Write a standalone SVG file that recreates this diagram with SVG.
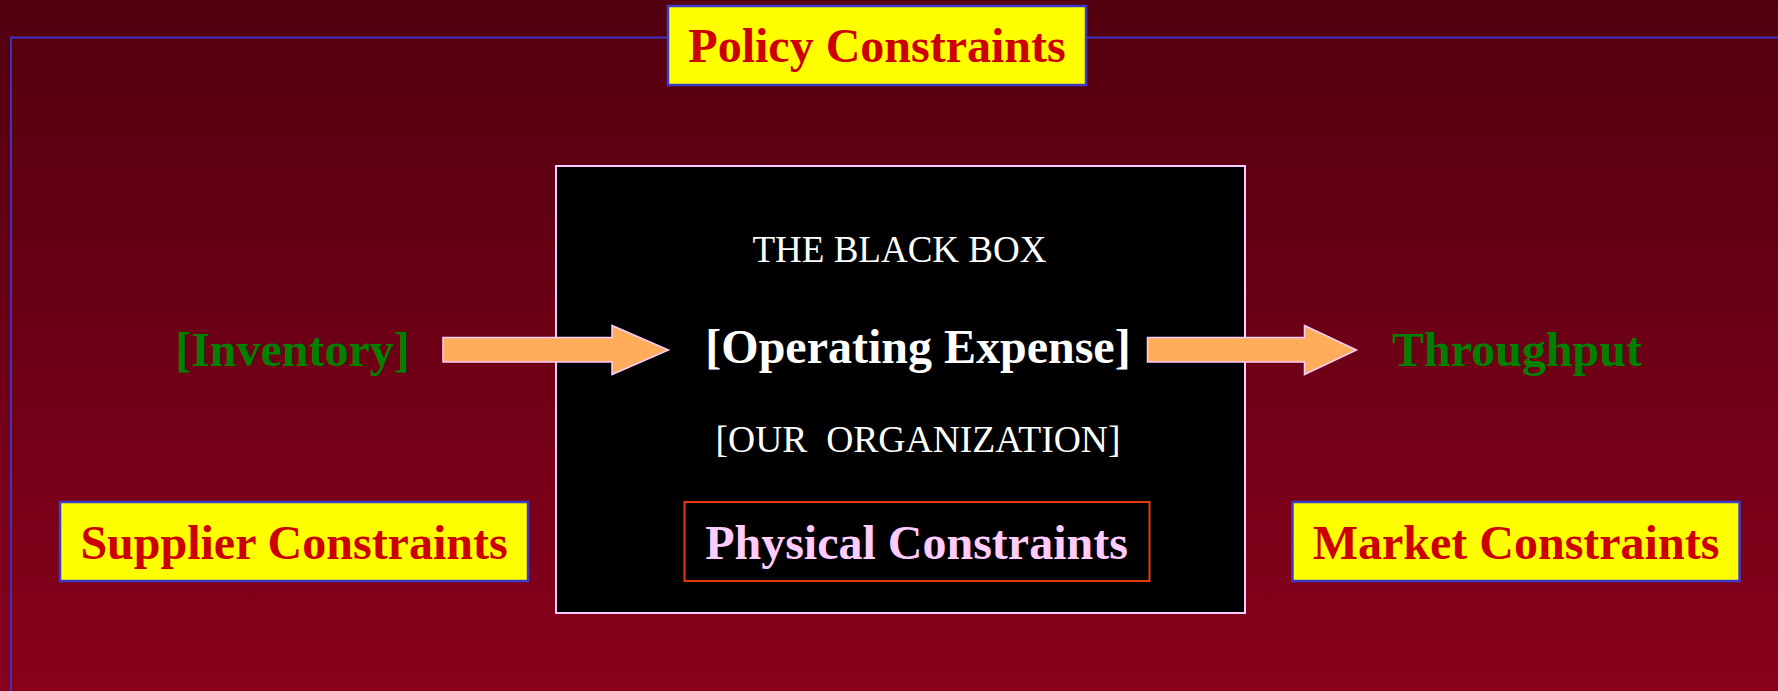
<svg xmlns="http://www.w3.org/2000/svg" width="1778" height="691" viewBox="0 0 1778 691">
<defs>
<linearGradient id="bg" x1="0" y1="0" x2="0" y2="1">
<stop offset="0" stop-color="#52000f"/>
<stop offset="1" stop-color="#88001c"/>
</linearGradient>
</defs>
<style>
text{font-family:"Liberation Serif","Times New Roman",serif;text-anchor:middle}
.ybox{fill:#ffff00;stroke:#3c3cc8;stroke-width:2.5}
.ytxt{font-size:48px;font-weight:bold;fill:#cc0000}
.green{font-size:48px;font-weight:bold;fill:#008000}
.white{fill:#ffffff;font-size:37px}
.arrow{fill:#ffad5b;stroke:#ffccff;stroke-width:1.5}
</style>
<rect x="0" y="0" width="1778" height="691" fill="url(#bg)"/>
<path d="M11,700 V37.5 H1790" fill="none" stroke="#3c33c4" stroke-width="2"/>

<g id="blackbox">
<rect x="556" y="166" width="689" height="447" fill="#000000" stroke="#ffccff" stroke-width="2"/>
<text class="white" x="899.5" y="262">THE BLACK BOX</text>
<text x="918" y="363" style="font-size:48px;font-weight:bold;fill:#ffffff">[Operating Expense]</text>
<text class="white" x="918" y="452" xml:space="preserve" style="white-space:pre;font-size:37.6px">[OUR  ORGANIZATION]</text>
</g>

<g id="physical">
<rect x="684.5" y="502" width="465" height="79" fill="#000000" stroke="#e83a10" stroke-width="2"/>
<text x="916.5" y="559" style="font-size:48px;font-weight:bold;fill:#ffccff">Physical Constraints</text>
</g>

<g id="policy">
<rect class="ybox" x="668" y="6" width="418" height="79"/>
<text class="ytxt" x="877" y="62">Policy Constraints</text>
</g>

<g id="supplier">
<rect class="ybox" x="60" y="502" width="468" height="79"/>
<text class="ytxt" x="294" y="559">Supplier Constraints</text>
</g>

<g id="market">
<rect class="ybox" x="1292.5" y="502" width="447" height="79"/>
<text class="ytxt" x="1516" y="559">Market Constraints</text>
</g>

<g id="inventory">
<text class="green" x="292.5" y="366">[Inventory]</text>
</g>

<g id="throughput">
<text class="green" x="1517" y="366">Throughput</text>
</g>

<g id="connectors">
<path class="arrow" d="M443,337.5 H612 V325.5 L668.5,350 L612,374.5 V362 H443 Z"/>
<path class="arrow" d="M1147.5,337.5 H1304.5 V325.5 L1356.5,350 L1304.5,374.5 V362 H1147.5 Z"/>
</g>
</svg>
